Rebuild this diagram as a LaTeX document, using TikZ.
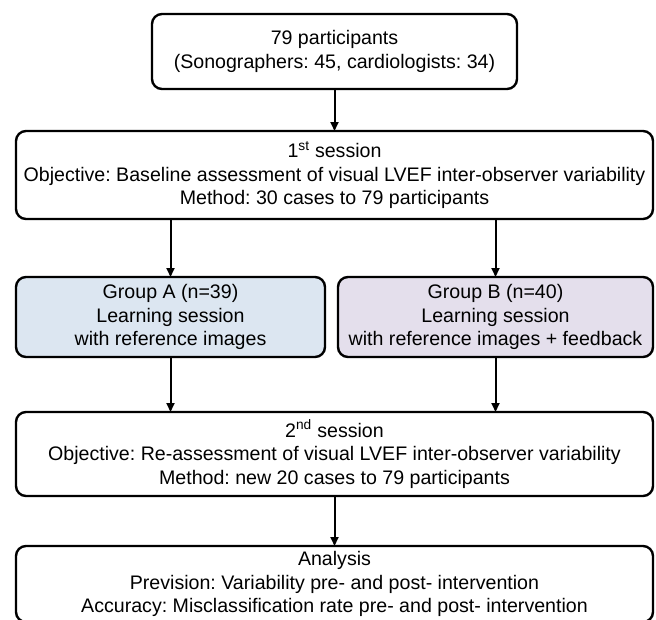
\documentclass[tikz,border=0pt]{standalone}
\usepackage{fontspec}
\setmainfont{Liberation Sans}
\usepackage{xcolor}
\usetikzlibrary{arrows.meta,calc,positioning}
\definecolor{groupA}{HTML}{DCE6F1}
\definecolor{groupB}{HTML}{E4DFEC}
\frenchspacing
\tikzset{
	flow chart/.style={
		x=1pt, y=1pt,
		font=\fontsize{19.6}{23.5}\selectfont,
		node distance=40pt and 10pt,
		execute at begin picture={\tikzset{every node/.style={outer sep=0pt}}}
		},
	box/.style={draw, line width=2.4pt, rounded corners=10pt, align=center,
		inner sep=0pt, minimum height=84pt, minimum width=637pt},
	small box/.style={box, minimum width=#1, minimum height=80pt},
	ar/.style={line width=2pt, -{Triangle[length=9pt,width=8pt]}}
}

\begin{document}
\begin{tikzpicture}[flow chart]
	\useasboundingbox (0,0) rectangle (656,-619);
	\node[box, minimum width=365pt, minimum height=75pt] (part) at (334.5,-51.5)
		{79 participants\\(Sonographers: 45, cardiologists: 34)};
	\node[box, minimum height=88pt, below=42pt of part] (ses1)
		{1\textsuperscript{st} session\\Objective: Baseline assessment of visual LVEF inter-observer variability\\Method: 30 cases to 79 participants};
	\node[small box=309pt, fill=groupA, below=58pt of ses1.south west, anchor=north west] (grpA)
		{Group A (n=39)\\Learning session\\with reference images};
	\node[small box=315pt, fill=groupB, below=58pt of ses1.south east, anchor=north east] (grpB)
		{Group B (n=40)\\Learning session\\with reference images + feedback};
	\node[box, below=55pt of grpA.south west, anchor=north west] (ses2)
		{2\textsuperscript{nd} session\\Objective: Re-assessment of visual LVEF inter-observer variability\\Method: new 20 cases to 79 participants};
	% bottom box runs past the lower edge
	\node[box, minimum height=76pt, below=50pt of ses2] (anl)
		{Analysis\\Prevision: Variability pre- and post- intervention\\Accuracy: Misclassification rate pre- and post- intervention};
	\draw[ar] (part) -- (ses1);
	\draw[ar] (ses1.south -| grpA) -- (grpA);
	\draw[ar] (ses1.south -| grpB) -- (grpB);
	\draw[ar] (grpA) -- (grpA |- ses2.north);
	\draw[ar] (grpB) -- (grpB |- ses2.north);
	\draw[ar] (ses2) -- (anl);
\end{tikzpicture}
\end{document}
